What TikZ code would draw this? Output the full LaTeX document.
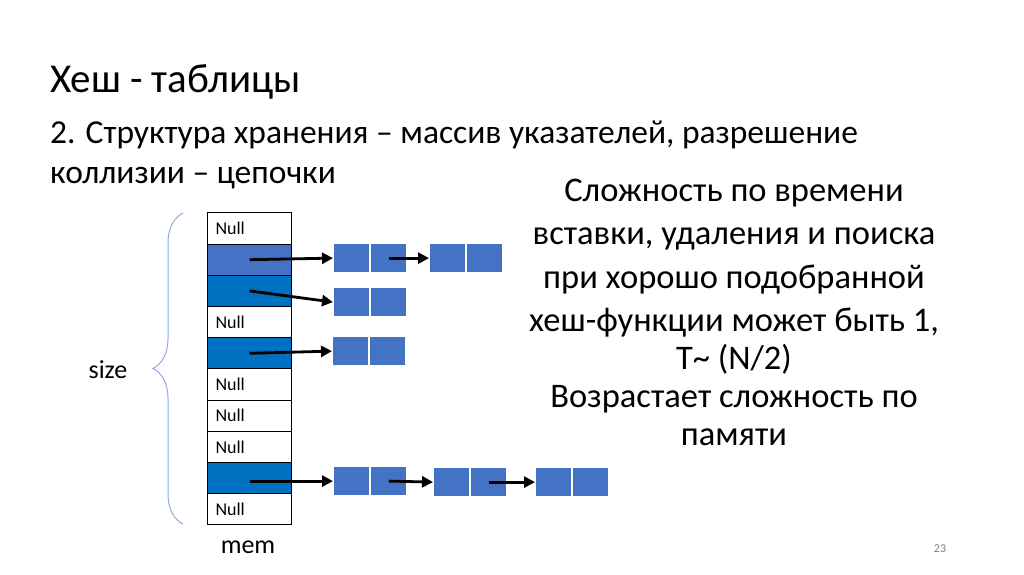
\documentclass[tikz,border=0pt]{standalone}
\usepackage{fontspec}
\setmainfont{Carlito}
\usetikzlibrary{positioning}
\usetikzlibrary{arrows.meta}
\usetikzlibrary{decorations.pathreplacing}
\definecolor{lightblue}{HTML}{4472C4}
\definecolor{darkblue}{HTML}{0070C0}
\definecolor{bracecol}{HTML}{8FAADC}

\begin{document}
\begin{tikzpicture}[x=1pt, y=-1pt,
  cell/.style={draw=black, line width=1pt, minimum height=31.2pt, text width=68pt,
    inner xsep=8pt, inner ysep=0pt, align=left, anchor=north west,
    font=\fontsize{18}{21}\selectfont},
  item/.style={fill=lightblue, draw=white, line width=1.2pt, minimum width=36pt,
    minimum height=29pt, inner sep=0pt},
  ptr/.style={-{Triangle[length=11pt,width=11pt]}, line width=2.8pt},
  txt/.style={inner sep=0pt}]
\def\rowh{31.2}
\useasboundingbox (0,0) rectangle (1024,574);

% Headings
\node[txt, anchor=base west, font=\fontsize{41}{48}\selectfont] (title) at (50,92) {Хеш - таблицы};
\node[txt, anchor=base west, align=left, font=\fontsize{33.5}{40}\selectfont] (sub) at (50,183)
  {2. Структура хранения – массив указателей, разрешение\\коллизии – цепочки};

% Array of pointers
\foreach \i/\f/\t in {1/white/Null, 2/lightblue/, 3/darkblue/, 4/white/Null, 5/darkblue/,
  6/white/Null, 7/white/Null, 8/white/Null, 9/darkblue/, 10/white/Null}
  \node[cell, fill=\f] (r\i) at (207, {212.4+(\i-1)*\rowh}) {\t};

% Chains
\node[item, anchor=north west] (l2a) at (333,243) {};
\node[item, right=0pt of l2a] (l2b) {};
\node[item, anchor=north west] (l2c) at (429,243) {};
\node[item, right=0pt of l2c] (l2d) {};
\node[item, anchor=north west] (l3a) at (333,287) {};
\node[item, right=0pt of l3a] (l3b) {};
\node[item, anchor=north west] (l5a) at (332,336) {};
\node[item, right=0pt of l5a] (l5b) {};
\node[item, anchor=north west] (l9a) at (333,466) {};
\node[item, right=0pt of l9a] (l9b) {};
\node[item, anchor=north west] (l9c) at (433,467) {};
\node[item, right=0pt of l9c] (l9d) {};
\node[item, anchor=north west] (l9e) at (535,467) {};
\node[item, right=0pt of l9e] (l9f) {};

% Pointers
\draw[ptr] (r2.center) -- (l2a.west);
\draw[ptr] (l2b.center) -- (l2c.west);
\draw[ptr] (r3.center) -- (l3a.west);
\draw[ptr] (r5.center) -- (l5a.west);
\draw[ptr] (r9.center |- l9a.west) -- (l9a.west);
\draw[ptr] (l9b.center) -- (l9c.west);
\draw[ptr] (l9d.center) -- (l9e.west);

% Size brace and labels
\draw[bracecol, line width=1pt, decorate, decoration={brace, amplitude=30pt}]
  (183,524) -- (183,213);
\node[txt, font=\fontsize{26}{30}\selectfont] (size) at (108,370) {size};
\node[txt, font=\fontsize{26}{30}\selectfont] (mem) at (248,547) {mem};

% Complexity note
\node[txt, anchor=base, align=center, font=\fontsize{34.5}{43.5}\selectfont] (note) at (734,445)
  {Сложность по времени\\вставки, удаления и поиска\\при хорошо подобранной\\хеш-функции может быть 1,\\[-5.8pt]
   T\textasciitilde{} (N/2)\\[-5.8pt]Возрастает сложность по\\[-5.8pt]памяти};

\node[txt, text=gray, font=\fontsize{12}{14}\selectfont] (page) at (940,549) {23};
\end{tikzpicture}
\end{document}
